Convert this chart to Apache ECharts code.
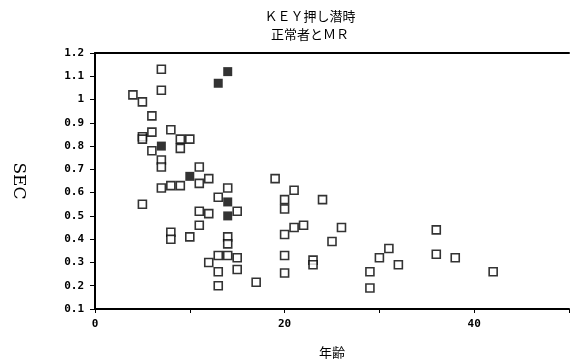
<!DOCTYPE html>
<html>
<head>
<meta charset="utf-8">
<script src="https://cdn.jsdelivr.net/npm/echarts@6/dist/echarts.min.js"></script>
<style>html,body{margin:0;padding:0;background:#fff}#c{width:572px;height:364px}</style>
</head>
<body>
<div id="c"></div>
<script>
const titleLines = ['ＫＥＹ押し潜時', '正常者とＭＲ'];
const xName = '年齢';
const yName = 'SEC';
const xTicks = [0, 20, 40];
// 正常者 (hollow squares)
const normalAge = [7,7,4,5,6,6,5,5,8,9,10,9,6,7,7,11,12,11,14,7,8,9,5,13,15,11,12,11,8,8,10,14,14,13,14,12,15,13,15,13,19,21,20,20,24,21,22,20,26,25,20,23,23,20,17,29,29,30,31,32,36,36,38,42];
const normalSec = [1.13,1.04,1.02,0.99,0.93,0.86,0.84,0.83,0.87,0.83,0.83,0.79,0.78,0.74,0.71,0.71,0.66,0.64,0.62,0.62,0.63,0.63,0.55,0.58,0.52,0.52,0.51,0.46,0.43,0.40,0.41,0.41,0.38,0.33,0.33,0.30,0.32,0.26,0.27,0.20,0.66,0.61,0.57,0.53,0.57,0.45,0.46,0.42,0.45,0.39,0.33,0.31,0.29,0.255,0.215,0.26,0.19,0.32,0.36,0.29,0.44,0.335,0.32,0.26];
// MR (filled squares)
const mrAge = [14,13,7,10,14,14];
const mrSec = [1.12,1.07,0.80,0.67,0.56,0.50];

const chart = echarts.init(document.getElementById('c'), null, {renderer:'canvas'});
const lab = {fontFamily:'DejaVu Sans Mono', fontWeight:'bold', fontSize:11, color:'#000'};
chart.setOption({
  animation:false,
  backgroundColor:'#fff',
  title:{
    text: titleLines.join('\n'),
    left: 305, top: 2, textAlign:'center',
    textStyle:{fontFamily:'Noto Sans CJK JP', fontWeight:'normal', fontSize:13, color:'#000', lineHeight:18}
  },
  grid:{left:95, right:1, top:53, bottom:55},
  xAxis:[{
    type:'value', min:0, max:50, interval:10,
    name:xName, nameLocation:'middle', nameGap:37,
    nameTextStyle:{fontFamily:'Noto Sans CJK JP', fontSize:13, color:'#000'},
    axisLine:{onZero:false, lineStyle:{color:'#000', width:2}},
    axisTick:{show:true, length:4, lineStyle:{color:'#000', width:1}},
    axisLabel:Object.assign({margin:10, formatter:v => xTicks.includes(v) ? String(v) : ''}, lab),
    splitLine:{show:false}
  },{
    type:'value', min:0, max:50, position:'top',
    axisLine:{show:true, lineStyle:{color:'#000', width:2}},
    axisTick:{show:false}, axisLabel:{show:false}, splitLine:{show:false}
  }],
  yAxis:{
    type:'value', min:0.1, max:1.2, interval:0.1,
    name:yName, nameLocation:'middle', nameGap:68, nameRotate:-90,
    nameTextStyle:{fontFamily:'DejaVu Serif', fontSize:17, color:'#000'},
    axisLine:{onZero:false, lineStyle:{color:'#000', width:2}},
    axisTick:{show:true, length:5, lineStyle:{color:'#000', width:1}},
    axisLabel:Object.assign({margin:11, formatter:v => String(Number(v.toFixed(1)))}, lab),
    splitLine:{show:false}
  },
  series:[{
    name:'正常者', type:'scatter', symbol:'rect', symbolSize:8,
    data: normalAge.map((a,i)=>[a, normalSec[i]]),
    itemStyle:{color:'#fff', borderColor:'#000', borderWidth:1.6}
  },{
    name:'MR', type:'scatter', symbol:'rect', symbolSize:9,
    data: mrAge.map((a,i)=>[a, mrSec[i]]),
    itemStyle:{color:'#000', borderColor:'#000', borderWidth:0}
  }]
});
</script>
</body>
</html>
